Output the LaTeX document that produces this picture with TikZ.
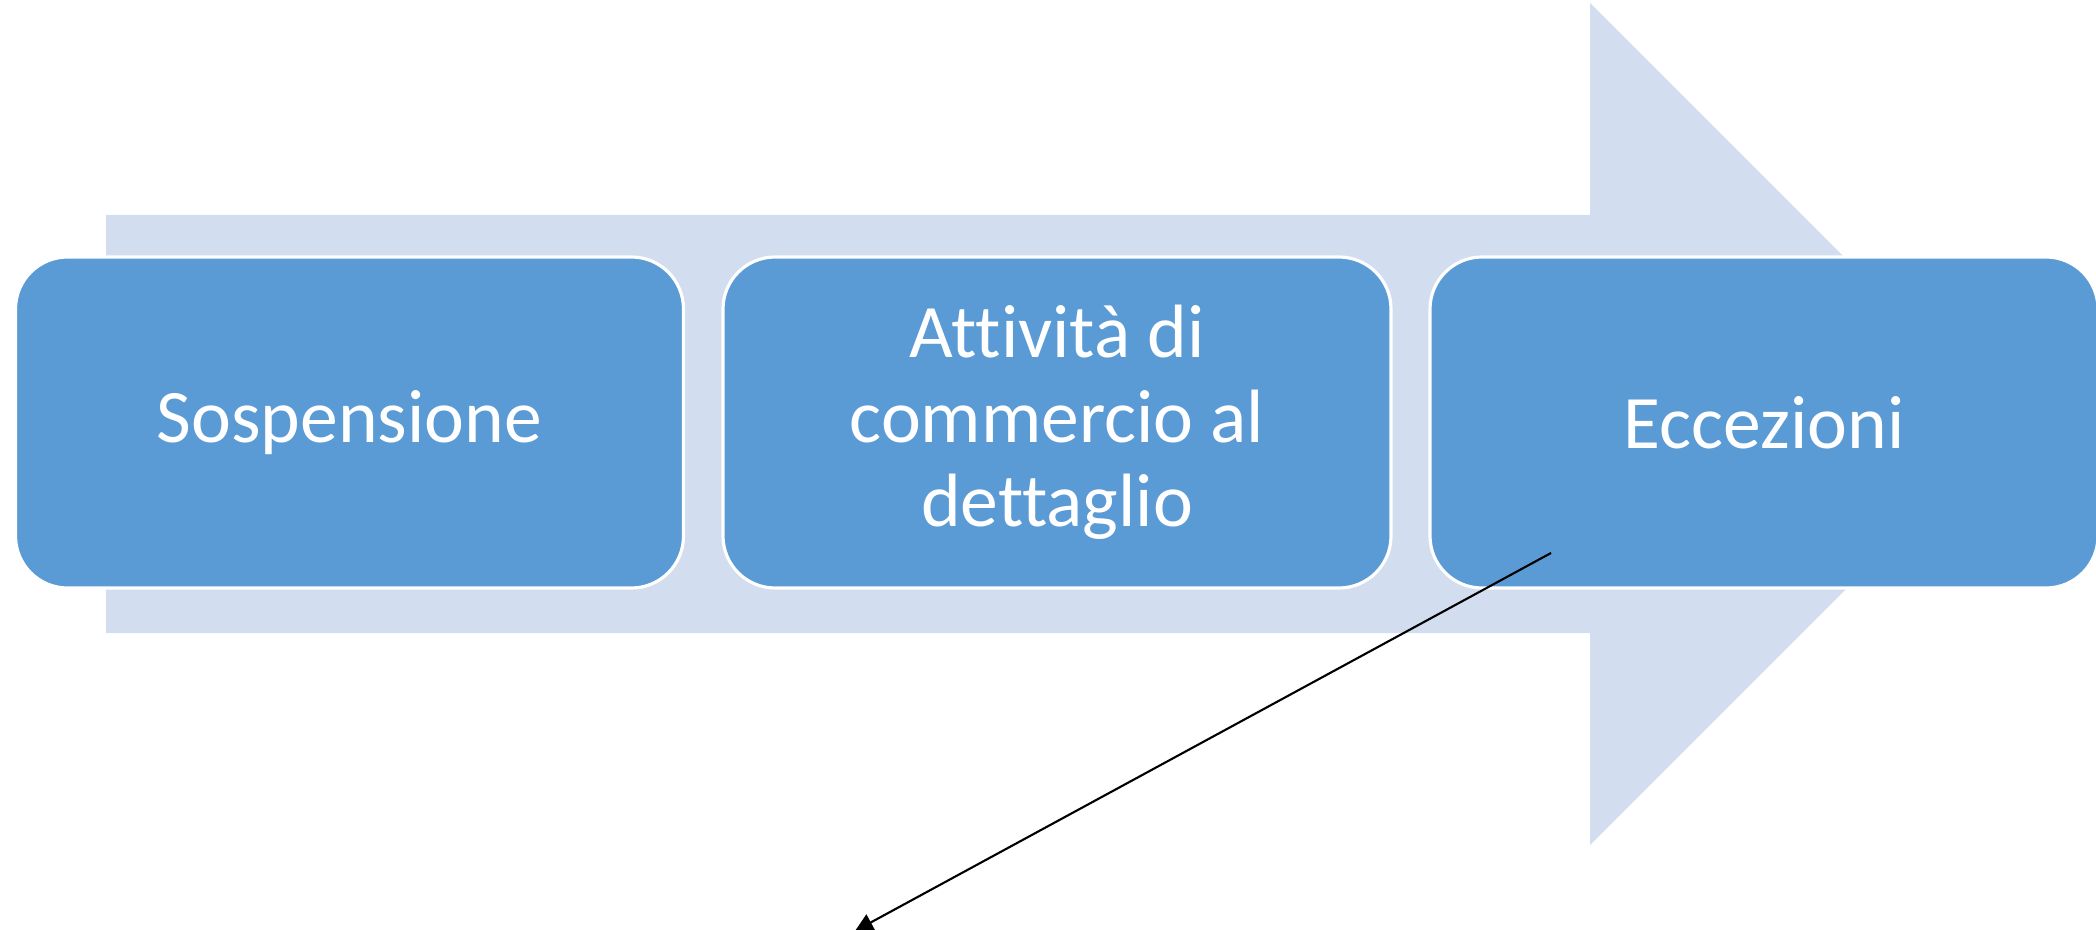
\documentclass[tikz,border=0pt]{standalone}
\usepackage{fontspec}
\setmainfont{Carlito}[Ligatures=NoCommon]
\usetikzlibrary{arrows.meta}
\definecolor{boxblue}{HTML}{5B9BD5}
\definecolor{arrowblue}{HTML}{D2DEEF}
\begin{document}
\begin{tikzpicture}[
        stage/.style={rectangle, rounded corners=0.52cm, draw=white, line width=0.9pt,
            fill=boxblue, text=white, minimum width=6.68cm, minimum height=3.31cm,
            align=center, font=\fontsize{21.5}{24}\selectfont}]
        \useasboundingbox (0, 0) rectangle (20.96, 9.29);

        \fill[arrowblue] (1.06, 7.14) -- (15.90, 7.14) -- (15.90, 9.26) -- (20.11, 5.05)
            -- (15.90, 0.84) -- (15.90, 2.96) -- (1.06, 2.96) -- cycle;

        \node[stage] (sosp) at (3.495, 5.065) {Sospensione};
        \node[stage] (attiv) at (10.57, 5.065) {Attività di\\commercio al\\dettaglio};
        \node[stage] (ecc) at (17.64, 5.065) {Eccezioni};

        \coordinate (from) at (15.51, 3.76);
        \coordinate (to) at (8.55, -0.02);
        \draw[line width=0.6pt, -{Triangle[length=0.18cm, width=0.18cm]}] (from) -- (to);

    \end{tikzpicture}
\end{document}
